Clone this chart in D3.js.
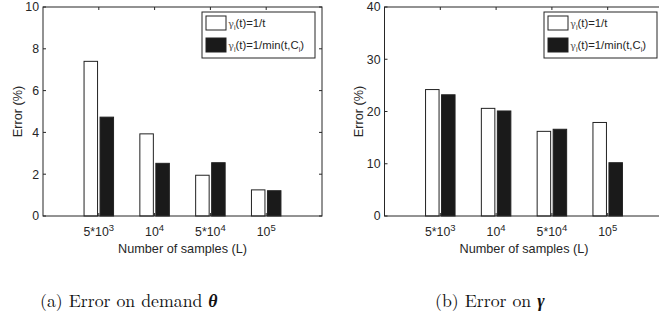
<!DOCTYPE html>
<html><head><meta charset="utf-8">
<script src="https://cdn.jsdelivr.net/npm/d3@7"></script>
<style>
html,body{margin:0;padding:0;background:#fff;overflow:hidden;}
svg{display:block;}
</style></head>
<body>
<svg id="c" width="659" height="325"></svg>
<script>
// ---- data ----
const categories = [
  {base:"5*10", exp:"3"},
  {base:"10", exp:"4"},
  {base:"5*10", exp:"4"},
  {base:"10", exp:"5"}
];
const seriesNames = ["1/t", "1/min(t,C"];
const thetaInv   = [7.4, 3.93, 1.95, 1.25];   // γi(t)=1/t
const thetaMin   = [4.73, 2.52, 2.55, 1.21];  // γi(t)=1/min(t,Ci)
const gammaInv   = [24.2, 20.6, 16.2, 17.9];
const gammaMin   = [23.2, 20.1, 16.6, 10.2];
const thetaTicks = [0, 2, 4, 6, 8, 10];
const gammaTicks = [0, 10, 20, 30, 40];
const xLabel = "Number of samples (L)";
const yLabel = "Error (%)";

const svg = d3.select("#c");
const txt = "#262626";
const font = "Liberation Sans, Arial, Helvetica, sans-serif";
const tickFs = 12.3, labFs = 12.7;

function panel(opts){
  const {left, right, top, bottom, yMax, ticks, a, b, ylabX} = opts;
  const g = svg.append("g");
  const x = d3.scaleLinear().domain([0, 5]).range([left, right]);
  const y = d3.scaleLinear().domain([0, yMax]).range([bottom, top]);
  const bw = 13.5, off = 8;
  const idx = d3.range(categories.length);
  // bars
  g.selectAll("rect.a").data(idx).join("rect")
    .attr("x", i => x(i + 1) - off - bw/2).attr("width", bw)
    .attr("y", i => y(a[i])).attr("height", i => y(0) - y(a[i]))
    .attr("fill", "#fff").attr("stroke", "#222").attr("stroke-width", 1);
  g.selectAll("rect.b").data(idx).join("rect")
    .attr("x", i => x(i + 1) + off - bw/2).attr("width", bw)
    .attr("y", i => y(b[i])).attr("height", i => y(0) - y(b[i]))
    .attr("fill", "#1a1a1a").attr("stroke", "#222").attr("stroke-width", 1);
  // box
  g.append("rect").attr("x", left).attr("y", top)
    .attr("width", right - left).attr("height", bottom - top)
    .attr("fill", "none").attr("stroke", txt).attr("stroke-width", 1);
  const tl = 3;
  // y ticks
  ticks.forEach(t => {
    g.append("line").attr("x1", left).attr("x2", left + tl).attr("y1", y(t)).attr("y2", y(t)).attr("stroke", txt);
    g.append("line").attr("x1", right).attr("x2", right - tl).attr("y1", y(t)).attr("y2", y(t)).attr("stroke", txt);
    g.append("text").attr("x", left - 4).attr("y", y(t) + 4.3).attr("text-anchor", "end")
      .attr("font-family", font).attr("font-size", tickFs).attr("fill", txt).text(t);
  });
  // x ticks
  idx.forEach(i => {
    const cx = x(i + 1);
    g.append("line").attr("x1", cx).attr("x2", cx).attr("y1", bottom).attr("y2", bottom - tl).attr("stroke", txt);
    g.append("line").attr("x1", cx).attr("x2", cx).attr("y1", top).attr("y2", top + tl).attr("stroke", txt);
    const t = g.append("text").attr("x", cx).attr("y", bottom + 20).attr("text-anchor", "middle")
      .attr("font-family", font).attr("font-size", tickFs).attr("fill", txt);
    t.append("tspan").text(categories[i].base);
    t.append("tspan").attr("dy", -5.5).attr("font-size", 9.5).text(categories[i].exp);
  });
  g.append("text").attr("x", (left + right) / 2).attr("y", bottom + 37)
    .attr("text-anchor", "middle").attr("font-family", font).attr("font-size", labFs).attr("fill", txt).text(xLabel);
  g.append("text").attr("transform", `translate(${ylabX},${(top + bottom)/2}) rotate(-90)`)
    .attr("text-anchor", "middle").attr("font-family", font).attr("font-size", labFs).attr("fill", txt).text(yLabel);
  // legend
  const lx = opts.legX, ly = 12, lw = 113, lh = 46;
  const lg = g.append("g");
  lg.append("rect").attr("x", lx).attr("y", ly).attr("width", lw).attr("height", lh)
    .attr("fill", "#fff").attr("stroke", txt).attr("stroke-width", 1);
  [["#fff"], ["#1a1a1a"]].forEach((c, k) => {
    const sy = ly + 4 + k * 22;
    lg.append("rect").attr("x", lx + 4).attr("y", sy).attr("width", 20).attr("height", 14)
      .attr("fill", c[0]).attr("stroke", "#222");
    const t = lg.append("text").attr("x", lx + 26).attr("y", sy + 11)
      .attr("font-family", font).attr("font-size", 11.3).attr("fill", txt);
    t.append("tspan").attr("font-family", "DejaVu Serif, serif").attr("font-size", 10).attr("fill", "#555").text("γ");
    t.append("tspan").attr("dy", 3).attr("font-size", 7).text("i");
    t.append("tspan").attr("dy", -3).text("(t)=" + seriesNames[k]);
    if (k === 1) {
      t.append("tspan").attr("dy", 3).attr("font-size", 7).text("i");
      t.append("tspan").attr("dy", -3).text(")");
    }
  });
}

panel({left: 43, right: 322, top: 7, bottom: 216, yMax: 10, ticks: thetaTicks,
  a: thetaInv, b: thetaMin, ylabX: 22, legX: 202});
panel({left: 384.5, right: 663.5, top: 7, bottom: 216, yMax: 40, ticks: gammaTicks,
  a: gammaInv, b: gammaMin, ylabX: 363, legX: 544});

// captions
const cap = svg.append("g").attr("font-family", "Latin Modern Roman, CMU Serif, Liberation Serif, Times New Roman, serif")
  .attr("font-size", 17.8).attr("fill", "#111");
const c1 = cap.append("text").attr("x", 40).attr("y", 307);
c1.append("tspan").text("(a) Error on demand ");
c1.append("tspan").attr("font-weight", "bold").attr("font-style", "italic").text("θ");
const c2 = cap.append("text").attr("x", 435).attr("y", 307);
c2.append("tspan").text("(b) Error on ");
c2.append("tspan").attr("font-weight", "bold").attr("font-style", "italic").text("γ");
</script>
</body></html>
